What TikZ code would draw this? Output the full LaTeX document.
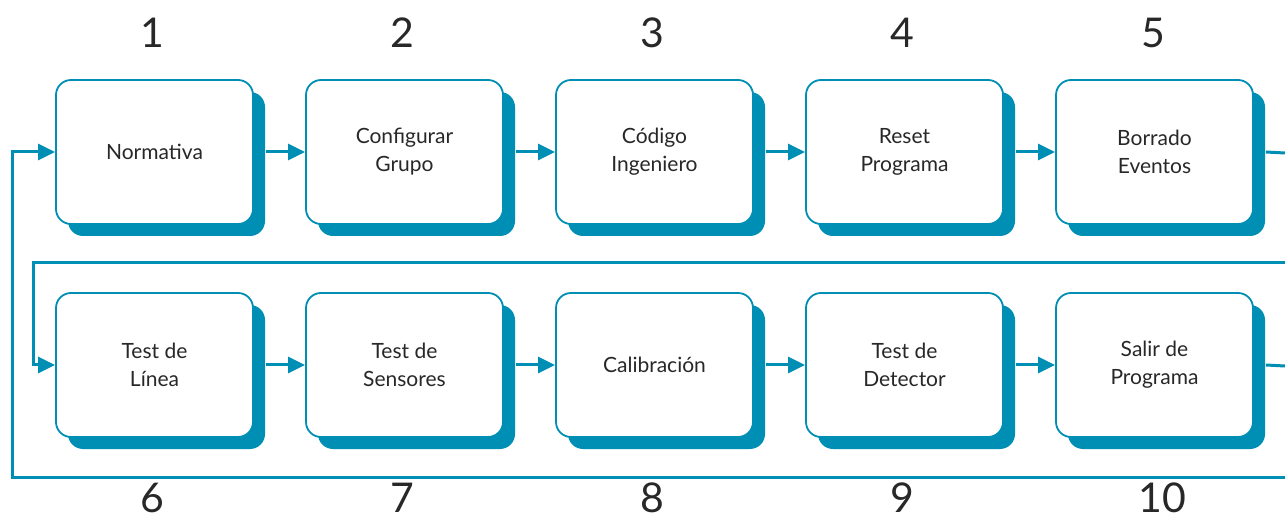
\documentclass[tikz,border=0pt]{standalone}
\usepackage{fontspec}
\setmainfont{Lato}
\usetikzlibrary{arrows.meta,shadows,calc}
\definecolor{teal1}{RGB}{0,143,180}
\definecolor{txt}{RGB}{40,40,40}
\tikzset{
  stepbox/.style={draw=teal1, line width=1.8pt, fill=white, rounded corners=15pt,
    minimum width=197pt, minimum height=144pt, align=center, text=txt,
    font=\fontsize{21}{28}\selectfont,
    drop shadow={shadow xshift=12pt, shadow yshift=-12pt, fill=teal1, opacity=1, draw=none}},
  conn/.style={draw=teal1, line width=3pt},
  arr/.style={conn, -{Triangle[length=17pt,width=16pt]}},
  num/.style={text=txt, font=\fontsize{41}{41}\selectfont, inner sep=0pt}
}
\begin{document}
\begin{tikzpicture}[x=1pt,y=-1pt]
\useasboundingbox (0,0) rectangle (1285,518);
\fill[white] (0,0) rectangle (1285,518);
% row 1
\node[stepbox] (b1) at (154.5,152) {Normativa};
\node[stepbox] (b2) at (404.5,152) {Configurar\\Grupo};
\node[stepbox] (b3) at (654.5,152) {Código\\Ingeniero};
\node[stepbox] (b4) at (904.5,152) {Reset\\Programa};
\node[stepbox] (b5) at (1154.5,152) {Borrado\\Eventos};
% row 2
\node[stepbox] (b6) at (154.5,365) {Test de\\Línea};
\node[stepbox] (b7) at (404.5,365) {Test de\\Sensores};
\node[stepbox] (b8) at (654.5,365) {Calibración};
\node[stepbox] (b9) at (904.5,365) {Test de\\Detector};
\node[stepbox] (b10) at (1154.5,365) {Salir de\\Programa};
% numbers
\node[num] (n1) at (152,33) {1};
\node[num] (n2) at (402,33) {2};
\node[num] (n3) at (652,33) {3};
\node[num] (n4) at (902,33) {4};
\node[num] (n5) at (1153,33) {5};
\node[num] (n6) at (152,498) {6};
\node[num] (n7) at (402,498) {7};
\node[num] (n8) at (652,498) {8};
\node[num] (n9) at (902,498) {9};
\node[num] (n10) at (1162,498) {10};
% coordinates for free ends
\coordinate (r1) at (1285,153);
\coordinate (r2a) at (1285,263);
\coordinate (l2) at (33,263);
\coordinate (r3) at (1285,366);
\coordinate (r4) at (1285,477);
\coordinate (l4) at (12,477);
% connectors
\draw[arr] ([xshift=12pt]b1.east) -- (b2.west);
\draw[arr] ([xshift=12pt]b2.east) -- (b3.west);
\draw[arr] ([xshift=12pt]b3.east) -- (b4.west);
\draw[arr] ([xshift=12pt]b4.east) -- (b5.west);
\draw[conn] ([xshift=12pt]b5.east) -- (r1);
\draw[arr] (r2a) -- (l2) -- (l2 |- b6.west) -- (b6.west);
\draw[arr] ([xshift=12pt]b6.east) -- (b7.west);
\draw[arr] ([xshift=12pt]b7.east) -- (b8.west);
\draw[arr] ([xshift=12pt]b8.east) -- (b9.west);
\draw[arr] ([xshift=12pt]b9.east) -- (b10.west);
\draw[conn] ([xshift=12pt]b10.east) -- (r3);
\draw[arr] (r4) -- (l4) -- (l4 |- b1.west) -- (b1.west);
\end{tikzpicture}
\end{document}
